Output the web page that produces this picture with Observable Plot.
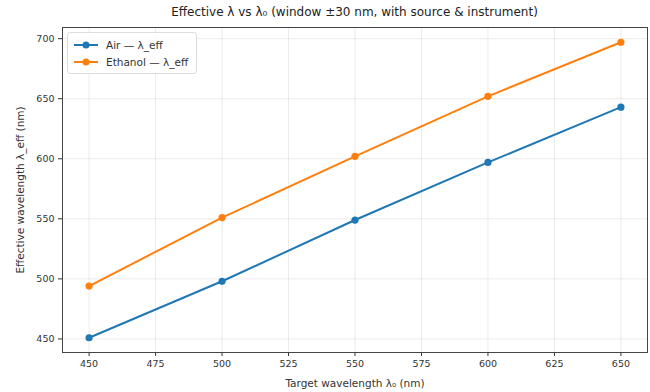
<!DOCTYPE html>
<html><head><meta charset="utf-8">
<script src="https://cdn.jsdelivr.net/npm/d3@7"></script>
<script src="https://cdn.jsdelivr.net/npm/@observablehq/plot@0.6"></script>
<style>
body{margin:0;background:#fff;font-family:"DejaVu Sans",sans-serif;}
#wrap{position:relative;width:650px;height:392px;}
#title{position:absolute;left:62px;right:3px;top:5px;text-align:center;font-size:12px;color:#222;}
#legend{position:absolute;left:67px;top:32px;border:1px solid #ddd;border-radius:3px;background:rgba(255,255,255,0.85);padding:3px 8px 3px 5px;font-size:10.5px;color:#333;}
.li{display:flex;align-items:center;height:17px;}
.li svg{margin-right:7px;}
</style></head>
<body><div id="wrap"><div id="title">Effective λ vs λ₀ (window ±30 nm, with source &amp; instrument)</div><div id="legend"></div></div>
<script>
const targets = [450, 500, 550, 600, 650];
const airEff = [451, 498, 549, 597, 643];
const ethanolEff = [494, 551, 602, 652, 697];
const seriesNames = ["Air — λ_eff", "Ethanol — λ_eff"];
const seriesColors = ["#1f77b4", "#ff7f0e"];
const xTicks = [450, 475, 500, 525, 550, 575, 600, 625, 650];
const yTicks = [450, 500, 550, 600, 650, 700];

const data = [];
targets.forEach((t, i) => {
  data.push({x: t, y: airEff[i], s: seriesNames[0]});
  data.push({x: t, y: ethanolEff[i], s: seriesNames[1]});
});

const plot = Plot.plot({
  width: 650, height: 392,
  marginTop: 27, marginBottom: 40, marginLeft: 62, marginRight: 3,
  style: {fontFamily: "DejaVu Sans, sans-serif", fontSize: "9.5px", color: "#333", background: "white"},
  x: {domain: [440, 660], ticks: xTicks, tickSize: 4, label: "Target wavelength λ₀ (nm)", labelAnchor: "center", labelArrow: "none", labelOffset: 34},
  y: {domain: [438.7, 709.3], ticks: yTicks, tickSize: 4, label: "Effective wavelength λ_eff (nm)", labelAnchor: "center", labelArrow: "none", labelOffset: 48},
  color: {domain: seriesNames, range: seriesColors},
  marks: [
    Plot.gridX(xTicks, {stroke: "#000", strokeOpacity: 0.08}),
    Plot.gridY(yTicks, {stroke: "#000", strokeOpacity: 0.08}),
    Plot.axisX({ticks: xTicks, tickSize: 4, tickPadding: 4, label: "Target wavelength λ₀ (nm)", labelAnchor: "center", labelArrow: "none", labelOffset: 34, fontSize: 9.5}),
    Plot.axisY({ticks: yTicks, tickSize: 4, tickPadding: 4, label: "Effective wavelength λ_eff (nm)", labelAnchor: "center", labelArrow: "none", labelOffset: 46, fontSize: 9.5}),
    Plot.line(data, {x: "x", y: "y", z: "s", stroke: "s", strokeWidth: 2}),
    Plot.dot(data, {x: "x", y: "y", fill: "s", r: 3.6}),
    Plot.frame({stroke: "#444", strokeWidth: 1})
  ]
});
document.getElementById("wrap").appendChild(plot);
plot.querySelectorAll('[aria-label$="axis label"] text, [aria-label="x-axis label"], [aria-label="y-axis label"]').forEach(t => t.setAttribute("font-size", "10.5"));

const leg = document.getElementById("legend");
seriesNames.forEach((n, i) => {
  const d = document.createElement("div");
  d.className = "li";
  d.innerHTML = `<svg width="26" height="10"><line x1="1" x2="25" y1="5" y2="5" stroke="${seriesColors[i]}" stroke-width="2"/><circle cx="13" cy="5" r="3.5" fill="${seriesColors[i]}"/></svg><span>${n}</span>`;
  leg.appendChild(d);
});
</script></body></html>
